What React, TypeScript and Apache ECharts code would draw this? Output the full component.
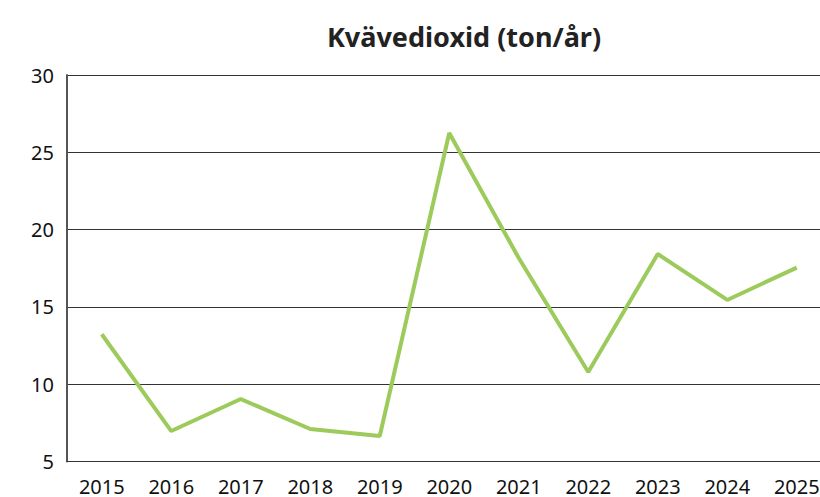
import React, { useEffect, useRef } from "react";
import * as echarts from "echarts";

const years = ["2015", "2016", "2017", "2018", "2019", "2020", "2021", "2022", "2023", "2024", "2025"];
const values = [13.23, 6.97, 9.04, 7.1, 6.65, 26.25, 18.16, 10.79, 18.42, 15.45, 17.54];
const titleText = "Kvävedioxid (ton/år)";

export default function App() {
  const ref = useRef<HTMLDivElement>(null);
  useEffect(() => {
    const chart = echarts.init(ref.current!, null, { renderer: "svg" });
    chart.setOption({
      animation: false,
      title: {
        text: titleText,
        left: 459,
        top: 18,
        textAlign: "center",
        textStyle: { fontFamily: "Noto Sans", fontSize: 27, fontWeight: "bold", color: "#222" },
      },
      grid: { left: 67, top: 75, height: 386.5, width: 764.5, outerBoundsMode: "none", containLabel: false },
      xAxis: {
        type: "category",
        data: years,
        boundaryGap: true,
        axisTick: { show: false },
        axisLine: { show: true, lineStyle: { color: "#333", width: 1 } },
        axisLabel: { fontFamily: "Noto Sans", fontSize: 20, color: "#111", margin: 15 },
        splitLine: { show: false },
      },
      yAxis: {
        type: "value",
        min: 5,
        max: 30,
        interval: 5,
        axisTick: { show: false },
        axisLine: { show: true, lineStyle: { color: "#555", width: 2 } },
        axisLabel: { fontFamily: "Noto Sans", fontSize: 20, color: "#111", margin: 13 },
        splitLine: { show: true, lineStyle: { color: "#333", width: 1 } },
      },
      series: [
        {
          type: "line",
          data: values,
          symbol: "none",
          lineStyle: { color: "#9ccb5c", width: 4 },
        },
      ],
    });
    return () => chart.dispose();
  }, []);
  return <div ref={ref} style={{ width: 820, height: 497, position: "absolute", left: 0, top: 0 }} />;
}
